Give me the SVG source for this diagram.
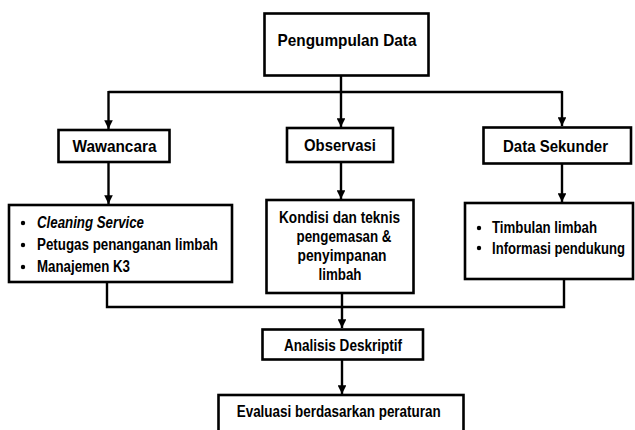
<svg xmlns="http://www.w3.org/2000/svg" width="635" height="430" viewBox="0 0 635 430">
<style>
.box{fill:#fff;stroke:#000;stroke-width:2.6}
.ln{fill:none;stroke:#000;stroke-width:2.4}
text{font-family:"Liberation Sans",Arial,sans-serif;font-weight:bold;font-size:16px;fill:#000}
.h{font-size:17px}
.c{text-anchor:middle}
.i{font-style:italic}
</style>
<defs>
<marker id="ah" viewBox="0 0 10 10" refX="10" refY="5" markerWidth="3.6" markerHeight="3.6" orient="auto" markerUnits="strokeWidth">
<path d="M0,0 L10,5 L0,10 z" fill="#000"/>
</marker>
</defs>
<g id="connectors">
<path class="ln" d="M341,75 V92"/>
<path class="ln" d="M108.5,92 H562"/>
<path class="ln" d="M108.5,91 V129" marker-end="url(#ah)"/>
<path class="ln" d="M341,91 V127" marker-end="url(#ah)"/>
<path class="ln" d="M562,91 V126" marker-end="url(#ah)"/>
<path class="ln" d="M108.5,162 V204" marker-end="url(#ah)"/>
<path class="ln" d="M341,162 V199" marker-end="url(#ah)"/>
<path class="ln" d="M562,163 V202" marker-end="url(#ah)"/>
<path class="ln" d="M107,282 V307 H564 V279"/>
<path class="ln" d="M342,293 V328" marker-end="url(#ah)"/>
<path class="ln" d="M342,359 V394" marker-end="url(#ah)"/>
</g>
<g id="pengumpulan">
<rect class="box" x="264.5" y="13.5" width="164" height="62"/>
<text class="c h" x="347" y="46" textLength="139" lengthAdjust="spacingAndGlyphs">Pengumpulan Data</text>
</g>
<g id="wawancara">
<rect class="box" x="58.5" y="130" width="111" height="32"/>
<text class="c h" x="114.5" y="152" textLength="84" lengthAdjust="spacingAndGlyphs">Wawancara</text>
</g>
<g id="observasi">
<rect class="box" x="287" y="128" width="106" height="34"/>
<text class="c h" x="340" y="151" textLength="72" lengthAdjust="spacingAndGlyphs">Observasi</text>
</g>
<g id="datasekunder">
<rect class="box" x="483.5" y="127.5" width="147.5" height="36"/>
<text class="c h" x="555.5" y="152" textLength="105" lengthAdjust="spacingAndGlyphs">Data Sekunder</text>
</g>
<g id="wawancara-items">
<rect class="box" x="9" y="205" width="223" height="77"/>
<circle cx="23" cy="223" r="2.2"/>
<circle cx="23" cy="245" r="2.2"/>
<circle cx="23" cy="267" r="2.2"/>
<text class="i" x="37" y="228" textLength="107" lengthAdjust="spacingAndGlyphs">Cleaning Service</text>
<text x="37" y="250" textLength="181" lengthAdjust="spacingAndGlyphs">Petugas penanganan limbah</text>
<text x="37" y="272" textLength="93" lengthAdjust="spacingAndGlyphs">Manajemen K3</text>
</g>
<g id="kondisi">
<rect class="box" x="266.5" y="200" width="147" height="93"/>
<text class="c" x="339.5" y="222.5" textLength="121" lengthAdjust="spacingAndGlyphs">Kondisi dan teknis</text>
<text class="c" x="344" y="241.5" textLength="95" lengthAdjust="spacingAndGlyphs">pengemasan &amp;</text>
<text class="c" x="342" y="260.5" textLength="89" lengthAdjust="spacingAndGlyphs">penyimpanan</text>
<text class="c" x="340" y="280" textLength="43" lengthAdjust="spacingAndGlyphs">limbah</text>
</g>
<g id="sekunder-items">
<rect class="box" x="465" y="203" width="168" height="76"/>
<circle cx="479" cy="228" r="2.2"/>
<circle cx="479" cy="248" r="2.2"/>
<text x="492" y="233" textLength="105" lengthAdjust="spacingAndGlyphs">Timbulan limbah</text>
<text x="492" y="253.5" textLength="133" lengthAdjust="spacingAndGlyphs">Informasi pendukung</text>
</g>
<g id="analisis">
<rect class="box" x="262.5" y="329.5" width="160.5" height="30"/>
<text class="c" x="343" y="350.5" textLength="118" lengthAdjust="spacingAndGlyphs">Analisis Deskriptif</text>
</g>
<g id="evaluasi">
<rect class="box" x="218.5" y="395" width="245" height="40"/>
<text class="c" x="338.7" y="416.5" textLength="204" lengthAdjust="spacingAndGlyphs">Evaluasi berdasarkan peraturan</text>
</g>
</svg>
